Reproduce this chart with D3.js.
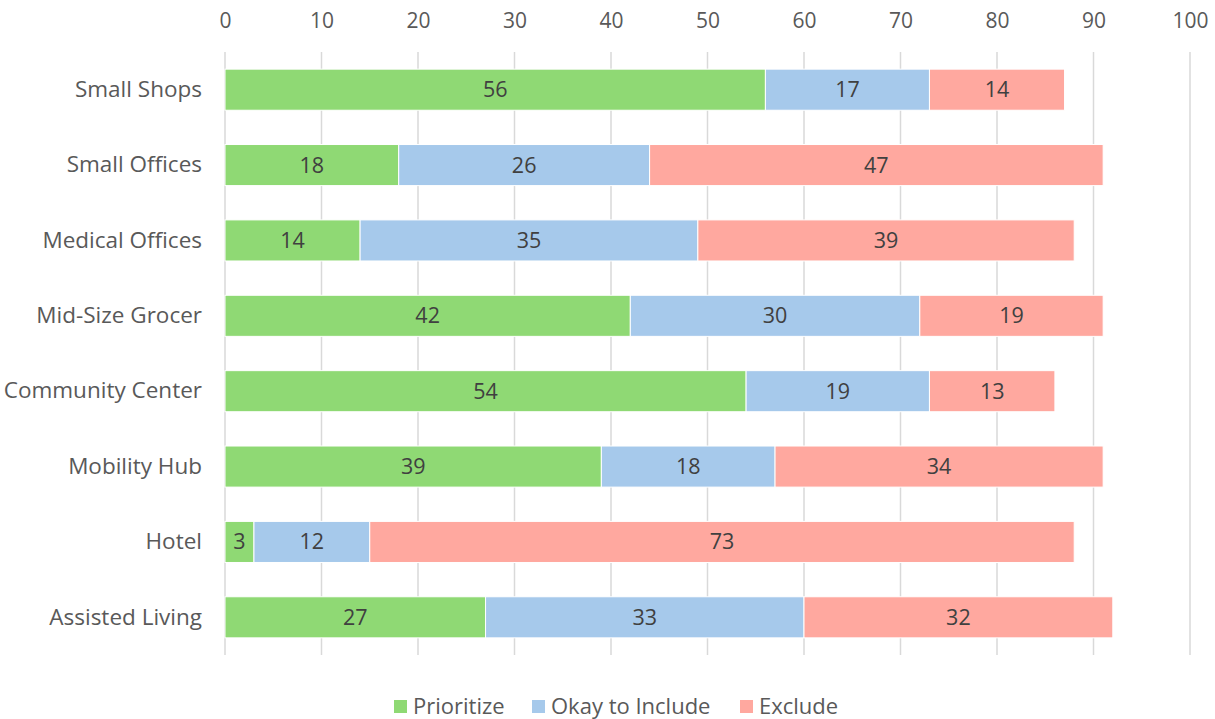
<!DOCTYPE html>
<html lang="en">
<head>
<meta charset="utf-8">
<title>Stacked Bar</title>
<script src="https://d3js.org/d3.v7.min.js"></script>
<style>
  body { margin: 0; background: #fff; }
  text { font-family: "Open Sans", sans-serif; }
</style>
</head>
<body>
<script>
  var categories = ["Small Shops", "Small Offices", "Medical Offices", "Mid-Size Grocer",
                    "Community Center", "Mobility Hub", "Hotel", "Assisted Living"];
  var seriesNames = ["Prioritize", "Okay to Include", "Exclude"];
  var prioritize = [56, 18, 14, 42, 54, 39, 3, 27];
  var okay       = [17, 26, 35, 30, 19, 18, 12, 33];
  var exclude    = [14, 47, 39, 19, 13, 34, 73, 32];
  var ticks = [0, 10, 20, 30, 40, 50, 60, 70, 80, 90, 100];
  var colors = ["#8fd974", "#a6c9eb", "#ffa89f"];

  var W = 1215, H = 719;
  var mLeft = 225, mRight = 1190, mTop = 52, mBottom = 655;

  var rows = categories.map(function(c, i) {
    return {cat: c, "Prioritize": prioritize[i], "Okay to Include": okay[i], "Exclude": exclude[i]};
  });
  var stacked = d3.stack().keys(seriesNames)(rows);

  var x = d3.scaleLinear().domain([0, 100]).range([mLeft, mRight]);
  var y = d3.scaleBand().domain(categories).range([mTop, mBottom]).paddingInner(0.455).paddingOuter(0.2275);

  var svg = d3.select("body").append("svg").attr("width", W).attr("height", H);

  // grid lines
  svg.append("g").selectAll("line").data(ticks).enter().append("line")
    .attr("x1", function(d){ return x(d); }).attr("x2", function(d){ return x(d); })
    .attr("y1", mTop).attr("y2", mBottom)
    .attr("stroke", "#d9d9d9").attr("stroke-width", 1.5);

  // top axis labels
  var axis = svg.append("g").attr("transform", "translate(0,21)")
    .call(d3.axisTop(x).tickValues(ticks).tickSize(0).tickPadding(0));
  axis.select(".domain").remove();
  axis.selectAll("text").attr("font-size", 21).attr("fill", "#595959")
    .attr("font-family", "'Open Sans', sans-serif").attr("dy", "0.35em");

  // category labels
  var yAxis = svg.append("g").attr("transform", "translate(" + (mLeft - 23) + ",0)")
    .call(d3.axisLeft(y).tickSize(0).tickPadding(0));
  yAxis.select(".domain").remove();
  yAxis.selectAll("text").attr("font-size", 22.5).attr("fill", "#595959")
    .attr("font-family", "'Open Sans', sans-serif");

  // bars
  var layers = svg.append("g").selectAll("g").data(stacked).enter().append("g")
    .attr("fill", function(d, i){ return colors[i]; });
  layers.selectAll("rect").data(function(d){ return d; }).enter().append("rect")
    .attr("x", function(d){ return x(d[0]); })
    .attr("width", function(d){ return x(d[1]) - x(d[0]); })
    .attr("y", function(d){ return y(d.data.cat); })
    .attr("height", y.bandwidth())
    .attr("stroke", "#fff").attr("stroke-width", 1);

  layers.selectAll("text").data(function(d){ return d; }).enter().append("text")
    .attr("x", function(d){ return (x(d[0]) + x(d[1])) / 2; })
    .attr("y", function(d){ return y(d.data.cat) + y.bandwidth() / 2; })
    .attr("dy", "0.35em").attr("text-anchor", "middle")
    .attr("font-size", 21.5).attr("fill", "#404040")
    .text(function(d){ return d[1] - d[0]; });

  // legend
  var legX = [394, 532, 740];
  var leg = svg.append("g").selectAll("g").data(seriesNames).enter().append("g")
    .attr("transform", function(d, i){ return "translate(" + legX[i] + ",700)"; });
  leg.append("rect").attr("width", 13).attr("height", 13)
    .attr("fill", function(d, i){ return colors[i]; });
  leg.append("text").attr("x", 19).attr("y", 6.5).attr("dy", "0.35em")
    .attr("font-size", 22).attr("fill", "#595959").text(function(d){ return d; });
</script>
</body>
</html>
